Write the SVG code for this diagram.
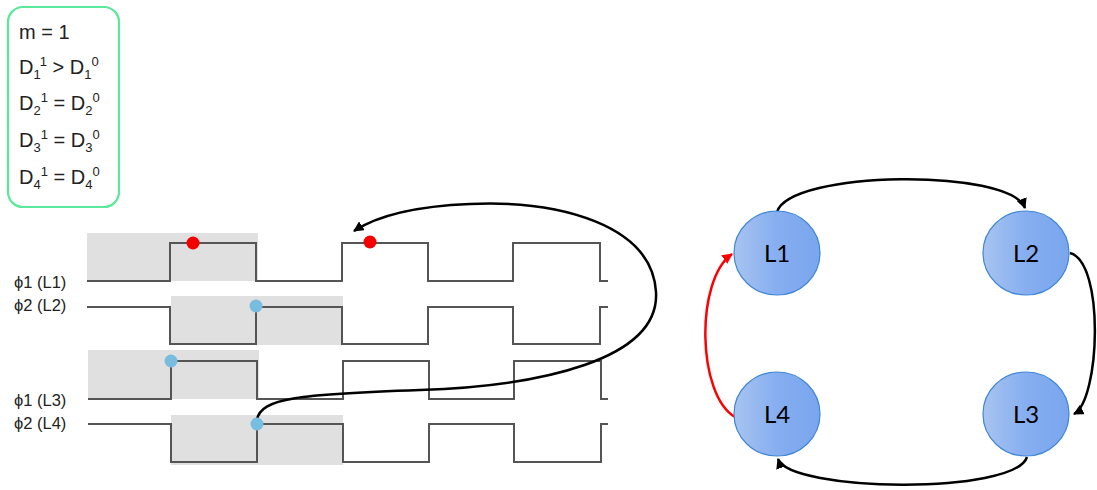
<svg xmlns="http://www.w3.org/2000/svg" width="1097" height="490" viewBox="0 0 1097 490">
  <defs>
    <style>
      .eq { font-family: "Liberation Sans", Arial, sans-serif; font-size: 20px; fill: #222; }
      .eq tspan.s { font-size: 13px; }
      .lbl { font-family: "Liberation Sans", Arial, sans-serif; font-size: 16.5px; fill: #222; }
      .shade { fill: #e0e0e0; }
      .wave { fill: none; stroke: #555; stroke-width: 2; }
      .dot-red { fill: #f40000; }
      .dot-blue { fill: #78bde0; }
      .node ellipse { fill: url(#nodeFill); stroke: #3f86d6; stroke-width: 1.2; }
      .node text { font-family: Lato, "Open Sans", sans-serif; font-size: 24px; fill: #000; text-anchor: middle; }
      .edge { fill: none; stroke: #000; stroke-width: 2.5; }
      .edge-red { fill: none; stroke: #f00; stroke-width: 2.5; }
    </style>
    <linearGradient id="nodeFill" x1="0" y1="0" x2="1" y2="0">
      <stop offset="0" stop-color="#a8c4f0"/>
      <stop offset="0.5" stop-color="#86aef0"/>
      <stop offset="1" stop-color="#7aa6ee"/>
    </linearGradient>
    <marker id="arrowBlack" viewBox="0 0 10 10" refX="9" refY="5" markerWidth="4.2" markerHeight="4.2" orient="auto" markerUnits="strokeWidth">
      <path d="M0,0 L10,5 L0,10 Z" fill="#000"/>
    </marker>
    <marker id="arrowRed" viewBox="0 0 10 10" refX="9" refY="5" markerWidth="4.2" markerHeight="4.2" orient="auto" markerUnits="strokeWidth">
      <path d="M0,0 L10,5 L0,10 Z" fill="#f00"/>
    </marker>
  </defs>

  <rect width="1097" height="490" fill="#fff"/>

  <!-- condition box -->
  <g id="conditions">
    <rect x="8" y="7" width="111" height="200" rx="15" ry="15" fill="#fff" stroke="#5ae89a" stroke-width="2.2"/>
    <text class="eq" x="19" y="39">m = 1</text>
    <text class="eq" x="19" y="74">D<tspan class="s" dy="5">1</tspan><tspan class="s" dy="-13">1</tspan><tspan dy="8"> &gt; D</tspan><tspan class="s" dy="5">1</tspan><tspan class="s" dy="-13">0</tspan></text>
    <text class="eq" x="19" y="110">D<tspan class="s" dy="5">2</tspan><tspan class="s" dy="-13">1</tspan><tspan dy="8"> = D</tspan><tspan class="s" dy="5">2</tspan><tspan class="s" dy="-13">0</tspan></text>
    <text class="eq" x="19" y="147">D<tspan class="s" dy="5">3</tspan><tspan class="s" dy="-13">1</tspan><tspan dy="8"> = D</tspan><tspan class="s" dy="5">3</tspan><tspan class="s" dy="-13">0</tspan></text>
    <text class="eq" x="19" y="184">D<tspan class="s" dy="5">4</tspan><tspan class="s" dy="-13">1</tspan><tspan dy="8"> = D</tspan><tspan class="s" dy="5">4</tspan><tspan class="s" dy="-13">0</tspan></text>
  </g>

  <!-- timing waveforms -->
  <g id="waveforms">
    <rect class="shade" x="87" y="233" width="171" height="48"/>
    <rect class="shade" x="171" y="296" width="172" height="49"/>
    <rect class="shade" x="88" y="350" width="171" height="49"/>
    <rect class="shade" x="171" y="415" width="172" height="50"/>

    <path class="wave" d="M87,281 H170 V243 H256 V281 H342 V243 H428 V281 H513 V243 H600 V281 H608"/>
    <path class="wave" d="M87,307 H170 V344 H256 V307 H342 V344 H428 V307 H513 V344 H600 V307 H608"/>
    <path class="wave" d="M88,399 H171 V361 H257 V399 H343 V361 H429 V399 H514 V361 H601 V399 H608"/>
    <path class="wave" d="M88,424 H171 V462 H257 V424 H343 V462 H429 V424 H514 V462 H601 V424 H608"/>

    <text class="lbl" x="14" y="288">ϕ1 (L1)</text>
    <text class="lbl" x="14" y="311">ϕ2 (L2)</text>
    <text class="lbl" x="14" y="406">ϕ1 (L3)</text>
    <text class="lbl" x="14" y="429">ϕ2 (L4)</text>
  </g>

  <!-- connectors -->
  <g id="connectors">
    <path class="edge" marker-end="url(#arrowBlack)" d="M257,420 C260,398 300,394 420,390 C540,386 660,360 656,292 C652,225 560,200 470,204 C420,206 380,214 354,231"/>
    <path class="edge" marker-end="url(#arrowBlack)" d="M777,212 C790,170 1010,168 1025,208"/>
    <path class="edge" marker-end="url(#arrowBlack)" d="M1070,253 C1105,262 1100,400 1074,414"/>
    <path class="edge" marker-end="url(#arrowBlack)" d="M1027,457 C1015,495 790,492 778,459"/>
    <path class="edge-red" marker-end="url(#arrowRed)" d="M735,417 C697,395 695,280 732,254"/>
  </g>

  <!-- markers on the waveforms -->
  <g id="points">
    <circle class="dot-red" cx="193" cy="243" r="6.5"/>
    <circle class="dot-red" cx="370" cy="242" r="6.5"/>
    <circle class="dot-blue" cx="256" cy="306" r="6.5"/>
    <circle class="dot-blue" cx="171" cy="361" r="6.5"/>
    <circle class="dot-blue" cx="257" cy="424" r="6.5"/>
  </g>

  <!-- state nodes -->
  <g id="L1" class="node"><ellipse cx="777" cy="253" rx="43" ry="42"/><text x="777" y="262">L1</text></g>
  <g id="L2" class="node"><ellipse cx="1026" cy="253" rx="43" ry="42"/><text x="1026" y="262">L2</text></g>
  <g id="L3" class="node"><ellipse cx="1026" cy="414" rx="43" ry="42"/><text x="1026" y="423">L3</text></g>
  <g id="L4" class="node"><ellipse cx="777" cy="414" rx="43" ry="42"/><text x="777" y="423">L4</text></g>
</svg>
